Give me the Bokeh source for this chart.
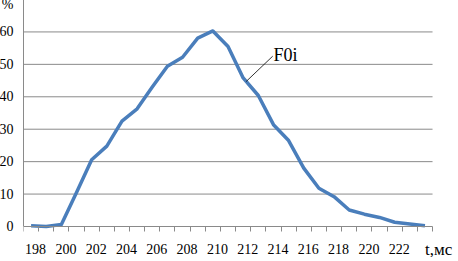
from bokeh.plotting import figure
from bokeh.models import Range1d, FixedTicker, CustomJSTickFormatter, Label, ColumnDataSource
from bokeh.embed import file_html
from bokeh.resources import INLINE
import numpy as np

# ---- data ----
t_ms = [198, 199, 200, 201, 202, 203, 204, 205, 206, 207, 208, 209, 210, 211,
        212, 213, 214, 215, 216, 217, 218, 219, 220, 221, 222, 223, 224]
f0i_pct = [0.2, 0.0, 0.6, 10.5, 20.6, 24.8, 32.5, 36.3, 43.0, 49.4, 52.2, 58.1, 60.3, 55.5,
           45.8, 40.4, 31.4, 26.5, 18.0, 11.8, 9.2, 5.1, 3.8, 2.8, 1.3, 0.8, 0.2]
x_tick_labels = [198, 200, 202, 204, 206, 208, 210, 212, 214, 216, 218, 220, 222]
y_ticks = [0, 10, 20, 30, 40, 50, 60, 70]
series_name = "F0i"
x_unit = "t,мс"
y_unit = "%"

# ---- style ----
GRID = "#8a8a8a"
LINE = "#4a7ebb"
FONT = "Liberation Serif"
label_shift = 0.3

x_lo, x_hi = t_ms[0] - 0.5, t_ms[-1] + 0.5
y_lo, y_hi = y_ticks[0], y_ticks[-1]

# frame runs to the page edges so the unit text below the axis stays visible
p = figure(width=458, height=261, output_backend="svg", toolbar_location=None,
           x_range=Range1d(x_lo, 225.95), y_range=Range1d(-9.56, y_hi),
           min_border_left=25, min_border_right=0, min_border_top=3, min_border_bottom=0)
p.margin = (-4, 0, 0, -4)
p.outline_line_color = None
p.background_fill_color = "white"
p.border_fill_color = "white"
p.xgrid.visible = False
p.ygrid.visible = False

# grid lines limited to the category span
gy = y_ticks[1:]
p.segment(x0=[x_lo] * len(gy), y0=gy, x1=[x_hi] * len(gy), y1=gy,
          line_color=GRID, line_width=1)

bounds = [v - 0.5 for v in t_ms] + [x_hi]
xa = p.xaxis[0]
xa.fixed_location = 0
xa.bounds = (x_lo, x_hi)
xa.ticker = FixedTicker(ticks=[v + label_shift for v in x_tick_labels], minor_ticks=bounds)
xa.formatter = CustomJSTickFormatter(code="return Math.round(tick).toString();")
xa.axis_line_color = GRID
xa.major_tick_out = 0
xa.major_tick_in = 0
xa.minor_tick_out = 5
xa.minor_tick_in = 0
xa.minor_tick_line_color = GRID
xa.major_label_standoff = 13
xa.major_label_text_font = FONT
xa.major_label_text_font_size = "14px"
xa.major_label_text_color = "black"

ya = p.yaxis[0]
ya.bounds = (y_lo, y_hi)
ya.ticker = FixedTicker(ticks=y_ticks)
ya.major_label_overrides = {70: y_unit}
ya.axis_line_color = GRID
ya.major_tick_out = 0
ya.major_tick_in = 0
ya.minor_tick_out = 0
ya.minor_tick_in = 0
ya.major_label_standoff = 10
ya.major_label_text_font = FONT
ya.major_label_text_font_size = "14px"
ya.major_label_text_color = "black"

src = ColumnDataSource(dict(t=t_ms, v=f0i_pct))
p.line("t", "v", source=src, line_color=LINE, line_width=3.5, line_join="round")

anchor_x = 212.2
anchor_y = float(np.interp(anchor_x, t_ms, f0i_pct))
p.segment(x0=[anchor_x], y0=[anchor_y], x1=[anchor_x + 1.75], y1=[anchor_y + 7.8],
          line_color="black", line_width=0.8)
p.add_layout(Label(x=anchor_x + 1.8, y=anchor_y + 8.2, text=series_name,
                   text_font=FONT, text_font_size="18px", text_color="black",
                   text_baseline="alphabetic"))
p.add_layout(Label(x=t_ms[-1], y=-7.0, text=x_unit,
                   text_font=FONT, text_font_size="17px", text_color="black",
                   text_baseline="alphabetic"))

open("out.html", "w").write(file_html(p, INLINE))
